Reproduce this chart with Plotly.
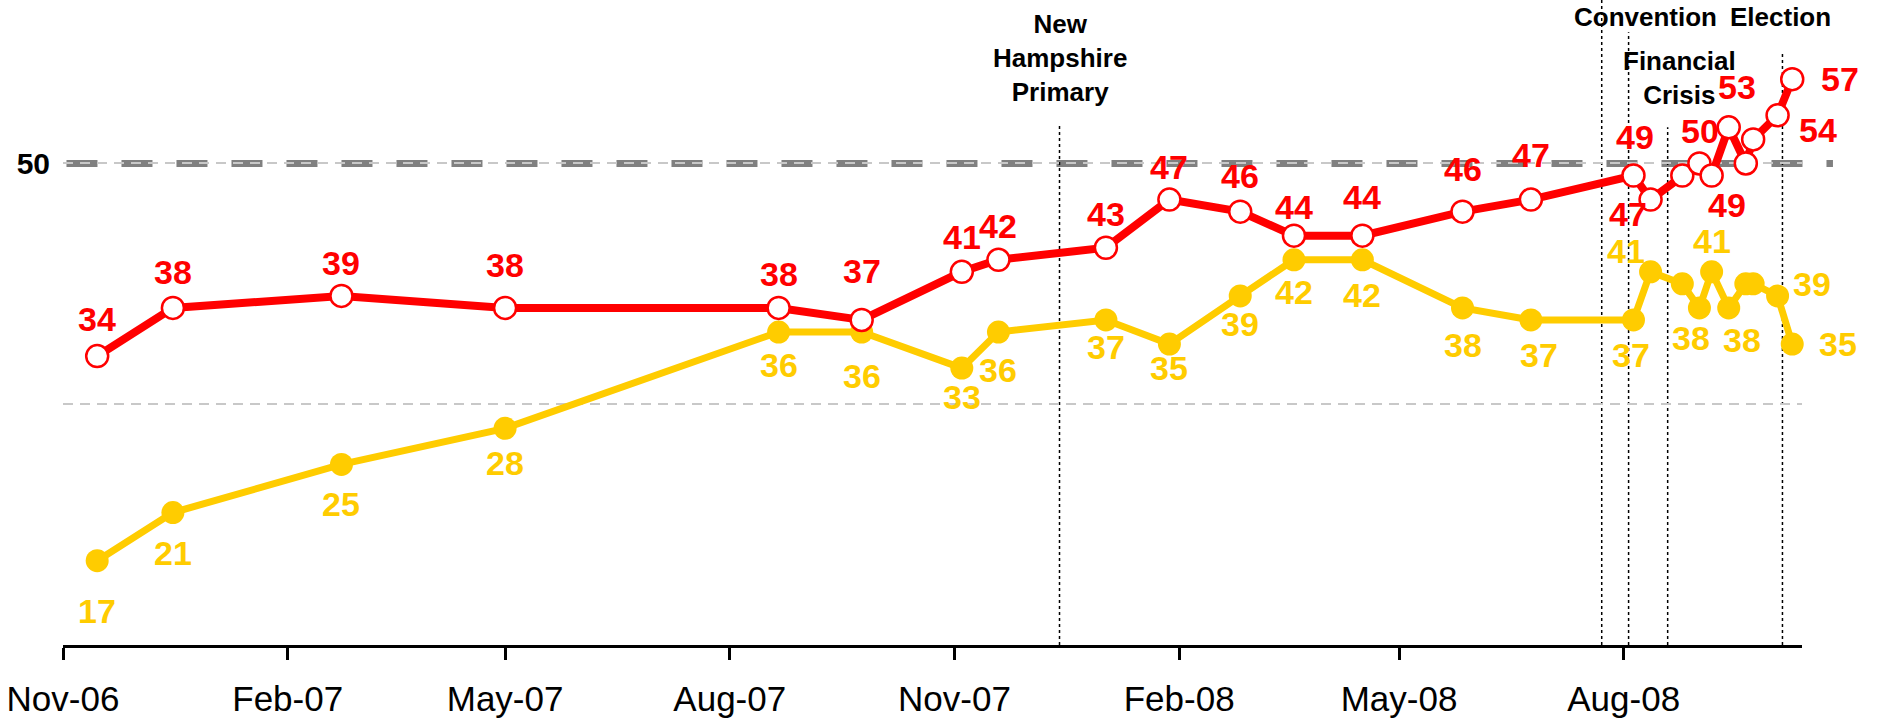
import plotly.graph_objects as go

# poll dates and shares
dates = ["2006-11-15", "2006-12-16", "2007-02-23", "2007-05-01", "2007-08-21",
         "2007-09-24", "2007-11-04", "2007-11-19", "2008-01-02", "2008-01-28",
         "2008-02-26", "2008-03-19", "2008-04-16", "2008-05-27", "2008-06-24",
         "2008-08-05", "2008-08-12", "2008-08-25", "2008-09-01", "2008-09-06",
         "2008-09-13", "2008-09-20", "2008-09-23", "2008-10-03", "2008-10-09"]
red_vals = [34, 38, 39, 38, 38, 37, 41, 42, 43, 47, 46, 44, 44, 46, 47,
            49, 47, 49, 50, 49, 53, 50, 52, 54, 57]
yellow_vals = [17, 21, 25, 28, 36, 36, 33, 36, 37, 35, 39, 42, 42, 38, 37,
               37, 41, 40, 38, 41, 38, 40, 40, 39, 35]

tick_dates = ["2006-11-01", "2007-02-01", "2007-05-01", "2007-08-01",
              "2007-11-01", "2008-02-01", "2008-05-01", "2008-08-01"]
tick_text = ["Nov-06", "Feb-07", "May-07", "Aug-07", "Nov-07", "Feb-08", "May-08", "Aug-08"]

# event markers: date, top of dotted line (y value)
events = [("2007-12-14", 53.2), ("2008-07-23", 63.6), ("2008-08-03", 60.9),
          ("2008-08-19", 53.0), ("2008-10-05", 59.25)]
event_labels = [("2007-12-14", 58.8, "New<br>Hampshire<br>Primary"),
                ("2008-08-10", 62.15, "Convention"),
                ("2008-08-24", 57.1, "Financial<br>Crisis"),
                ("2008-10-04", 62.15, "Election")]

# label offsets in pixels (dx, dy up); None = no label
red_off = [(0, 37), (0, 36), (0, 33), (0, 43), (0, 34), (0, 49), (0, 35), (0, 34),
           (0, 34), (0, 33), (0, 36), (0, 29), (0, 39), (0, 43), (0, 45), (2, 39),
           (-23, -14), None, (1, 32), (15, -29), (8, 40), None, None, (40, -15), (48, 0)]
yellow_off = [(0, -50), (0, -40), (0, -40), (0, -35), (0, -33), (0, -44), (0, -29),
              (0, -38), (0, -27), (0, -24), (0, -28), (0, -32), (0, -35), (0, -37),
              (8, -35), (-2, -35), (-25, 21), None, (-8, -30), (0, 31), (13, -32),
              None, None, (34, 12), (46, 0)]

RED = "#FF0000"
YEL = "#FFCC00"
FONT = "Liberation Sans, Arial, sans-serif"

fig = go.Figure()

fig.add_trace(go.Scatter(
    x=dates, y=yellow_vals, mode="lines+markers",
    line=dict(color=YEL, width=7),
    marker=dict(color=YEL, size=23),
    cliponaxis=False, showlegend=False))

fig.add_trace(go.Scatter(
    x=dates, y=red_vals, mode="lines+markers",
    line=dict(color=RED, width=8),
    marker=dict(color="white", size=22, line=dict(color=RED, width=2.5)),
    cliponaxis=False, showlegend=False))

shapes = [dict(type="line", xref="paper", yref="y", x0=0.002, x1=1.0178, y0=50, y1=50,
               line=dict(color="#808080", width=7, dash="31px,24px"), layer="below")]
for d, top in events:
    shapes.append(dict(type="line", xref="x", yref="y", x0=d, x1=d, y0=10, y1=top,
                       line=dict(color="black", width=1.5, dash="dot"), layer="below"))

annotations = []
for d, yv, txt in event_labels:
    annotations.append(dict(x=d, y=yv, xref="x", yref="y", text=txt, showarrow=False,
                            font=dict(family=FONT, size=26, color="black", weight="bold"),
                            align="center"))

for vals, offs, col in [(yellow_vals, yellow_off, YEL), (red_vals, red_off, RED)]:
    for d, v, off in zip(dates, vals, offs):
        if off is None:
            continue
        annotations.append(dict(x=d, y=v, xref="x", yref="y", text=str(v), showarrow=False,
                                xshift=off[0], yshift=off[1],
                                font=dict(family=FONT, size=34, color=col, weight="bold")))

fig.update_layout(
    width=1881, height=728,
    margin=dict(l=63, r=79, t=0, b=83),
    plot_bgcolor="white", paper_bgcolor="white",
    shapes=shapes, annotations=annotations,
    xaxis=dict(type="date", range=["2006-11-01", "2008-10-13"],
               tickvals=tick_dates, ticktext=tick_text,
               showline=True, linecolor="black", linewidth=3,
               ticks="outside", ticklen=12, tickwidth=3, tickcolor="black",
               ticklabelstandoff=9,
               tickfont=dict(family=FONT, size=35, color="black"),
               showgrid=False, zeroline=False),
    yaxis=dict(range=[10, 63.58], tickvals=[30, 50], ticktext=["", "<b>50</b>"],
               tickfont=dict(family=FONT, size=30, color="black"),
               ticklabelstandoff=12,
               showgrid=True, gridcolor="#C8C8C8", gridwidth=1.5, griddash="10px,7px",
               showline=False, zeroline=False),
)

fig.write_html("out.html", config={"displayModeBar": False},
               post_script="document.body.style.margin='0';")
